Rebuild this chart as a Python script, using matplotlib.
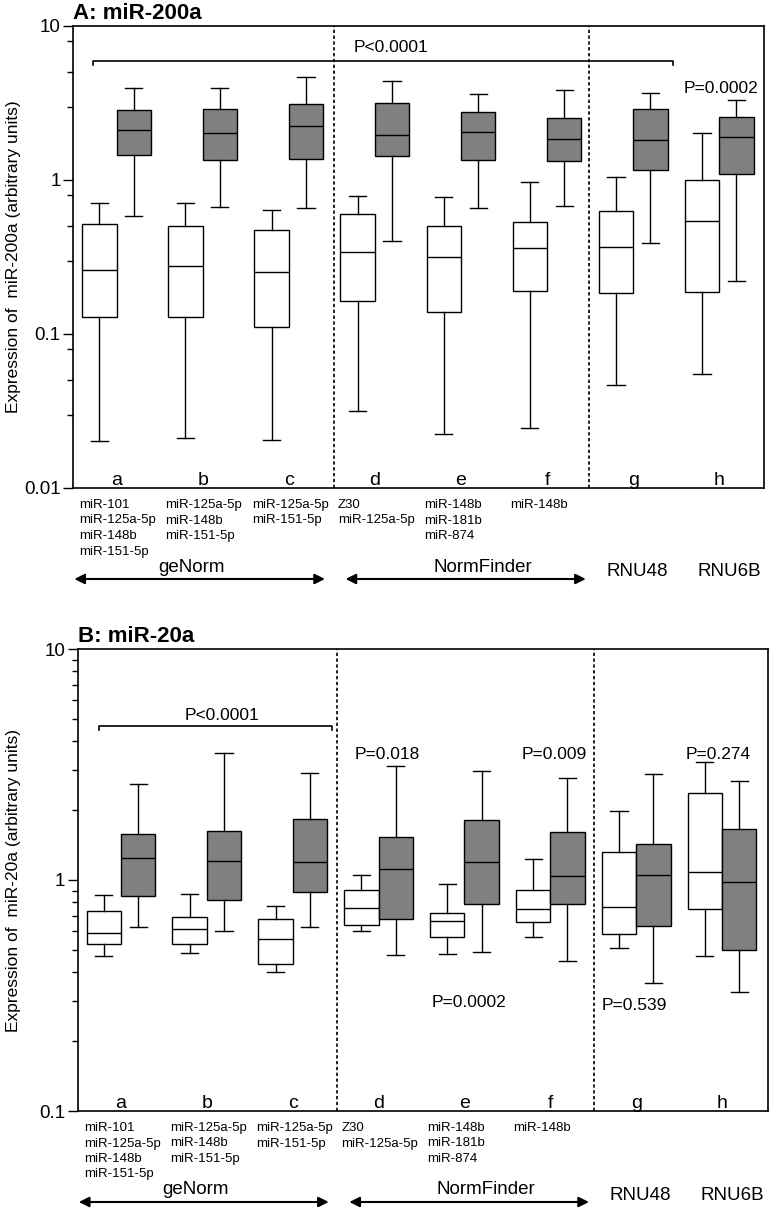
import matplotlib
matplotlib.use('Agg')
import matplotlib.pyplot as plt
from matplotlib import ticker

plt.rcParams['font.family'] = ['Liberation Sans', 'DejaVu Sans']

groups = ['a', 'b', 'c', 'd', 'e', 'f', 'g', 'h']
ref_genes = [
    ['miR-101', 'miR-125a-5p', 'miR-148b', 'miR-151-5p'],
    ['miR-125a-5p', 'miR-148b', 'miR-151-5p'],
    ['miR-125a-5p', 'miR-151-5p'],
    ['Z30', 'miR-125a-5p'],
    ['miR-148b', 'miR-181b', 'miR-874'],
    ['miR-148b'],
]

# [whislo, q1, median, q3, whishi]
a_white = [
    [0.0202, 0.128, 0.259, 0.515, 0.713],
    [0.021, 0.128, 0.278, 0.505, 0.706],
    [0.0206, 0.111, 0.251, 0.475, 0.636],
    [0.0315, 0.164, 0.34, 0.598, 0.79],
    [0.0225, 0.138, 0.318, 0.50, 0.776],
    [0.0246, 0.191, 0.36, 0.537, 0.97],
    [0.0464, 0.185, 0.369, 0.63, 1.05],
    [0.0552, 0.187, 0.54, 0.995, 2.03],
]
a_gray = [
    [0.58, 1.45, 2.12, 2.85, 3.98],
    [0.671, 1.35, 2.01, 2.89, 3.98],
    [0.66, 1.37, 2.25, 3.13, 4.69],
    [0.40, 1.44, 1.95, 3.16, 4.40],
    [0.658, 1.34, 2.04, 2.78, 3.64],
    [0.675, 1.32, 1.84, 2.51, 3.86],
    [0.388, 1.16, 1.82, 2.90, 3.69],
    [0.22, 1.10, 1.90, 2.58, 3.32],
]
b_white = [
    [0.470, 0.530, 0.588, 0.732, 0.861],
    [0.483, 0.528, 0.612, 0.691, 0.867],
    [0.400, 0.433, 0.554, 0.680, 0.774],
    [0.603, 0.637, 0.754, 0.908, 1.05],
    [0.478, 0.567, 0.667, 0.718, 0.961],
    [0.565, 0.656, 0.747, 0.902, 1.229],
    [0.506, 0.584, 0.762, 1.318, 1.98],
    [0.469, 0.747, 1.08, 2.37, 3.23],
]
b_gray = [
    [0.628, 0.853, 1.24, 1.58, 2.60],
    [0.601, 0.817, 1.21, 1.63, 3.54],
    [0.628, 0.890, 1.20, 1.83, 2.91],
    [0.472, 0.676, 1.12, 1.54, 3.12],
    [0.490, 0.790, 1.20, 1.81, 2.95],
    [0.445, 0.785, 1.04, 1.61, 2.76],
    [0.358, 0.630, 1.05, 1.436, 2.87],
    [0.327, 0.499, 0.98, 1.667, 2.68],
]

# p-value annotations: (text, x, y)
a_pvals = [('P<0.0001', 4.19, 7.3), ('P=0.0002', 8.02, 3.95)]
b_pvals = [('P<0.0001', 2.18, 5.13), ('P=0.018', 4.10, 3.51), ('P=0.009', 6.05, 3.51),
           ('P=0.274', 7.95, 3.51), ('P=0.0002', 5.05, 0.294), ('P=0.539', 6.98, 0.286)]

W, H = 773, 1217
fig = plt.figure(figsize=(W / 100, H / 100), dpi=100)


def stats(rows):
    return [dict(whislo=r[0], q1=r[1], med=r[2], q3=r[3], whishi=r[4], fliers=[]) for r in rows]


def panel(rect, white, gray, ylim, title, ylabel, pvals, bracket, vlines, xlim, minor):
    left, top, right, bottom = rect
    ax = fig.add_axes([left / W, 1 - bottom / H, (right - left) / W, (bottom - top) / H])
    ph = bottom - top
    pos = list(range(1, 9))
    lw = 1.0
    for data, fc, off in ((white, 'white', -0.2), (gray, '#808080', 0.2)):
        ax.bxp(stats(data), positions=[p + off for p in pos], widths=0.4, patch_artist=True,
               showfliers=False, capwidths=0.2, manage_ticks=False,
               boxprops=dict(facecolor=fc, edgecolor='black', linewidth=lw),
               medianprops=dict(color='black', linewidth=lw),
               whiskerprops=dict(color='black', linewidth=lw),
               capprops=dict(color='black', linewidth=lw))
    for xv in vlines:
        ax.axvline(xv, color='black', lw=1.2, ls=(0, (2, 1.5)), zorder=0)
    ax.set_yscale('log')
    ax.set_ylim(*ylim)
    ax.set_xlim(*xlim)
    dec = [10.0 ** k for k in range(-3, 2)]
    dec = [d for d in dec if ylim[0] <= d <= ylim[1]]
    ax.set_yticks(dec, [('%g' % d) for d in dec])
    ax.yaxis.set_minor_locator(ticker.LogLocator(base=10, subs=minor))
    ax.yaxis.set_minor_formatter(ticker.NullFormatter())
    ax.tick_params(axis='y', which='major', length=7, width=1.0, labelsize=13.5, pad=2)
    ax.tick_params(axis='y', which='minor', length=4, width=1.0)
    ax.set_xticks([])
    for s in ax.spines.values():
        s.set_linewidth(1.2)
    ax.set_ylabel(ylabel, fontsize=12.5)
    ax.yaxis.set_label_coords(-(left - 21) / (right - left), 0.5)
    ax.text(0, 1 + 12.5 / ph, title, transform=ax.transAxes, ha='left', va='center',
            fontsize=16, fontweight='bold')
    for t, x, y in pvals:
        ax.text(x, y, t, ha='center', va='center', fontsize=12.5)
    x0, x1, yb, k = bracket
    ax.plot([x0, x0, x1, x1], [yb * k, yb, yb, yb * k], color='black', lw=1.2)
    tr = ax.get_xaxis_transform()
    for p, g in zip(pos, groups):
        ax.text(p, 3 / ph, g, transform=tr, ha='center', va='baseline', fontsize=14)
    for p, genes in zip(pos, ref_genes):
        for j, gname in enumerate(genes):
            ax.text(p - 0.43, -(17 + 15.5 * j) / ph, gname, transform=tr, ha='left',
                    va='center', fontsize=9.5, clip_on=False)
    ya = -91 / ph
    for xa, xb in ((0.51, 3.42), (3.66, 6.45)):
        ax.annotate('', xy=(xb, ya), xytext=(xa, ya), xycoords=tr, textcoords=tr,
                    arrowprops=dict(arrowstyle='<|-|>', color='black', lw=1.5,
                                    mutation_scale=15, shrinkA=0, shrinkB=0))
    for t, x, dy in (('geNorm', 1.87, 79), ('NormFinder', 5.25, 79),
                     ('RNU48', 7.05, 84), ('RNU6B', 8.12, 84)):
        ax.text(x, -dy / ph, t, transform=tr, ha='center', va='center', fontsize=13.5)
    return ax


panel((73, 26, 764, 488), a_white, a_gray, (0.01, 10), 'A: miR-200a',
      'Expression of  miR-200a (arbitrary units)', a_pvals,
      (0.727, 7.46, 5.95, 0.94), (3.52, 6.49), (0.494, 8.52), (3.0, 5.0, 8.0))
panel((78, 649, 768, 1111), b_white, b_gray, (0.1, 10), 'B: miR-20a',
      'Expression of  miR-20a (arbitrary units)', b_pvals,
      (0.744, 3.456, 4.64, 0.96), (3.52, 6.51), (0.5, 8.535), (2, 3, 4, 5, 6, 7, 8, 9))

fig.savefig('out.png', dpi=100)
